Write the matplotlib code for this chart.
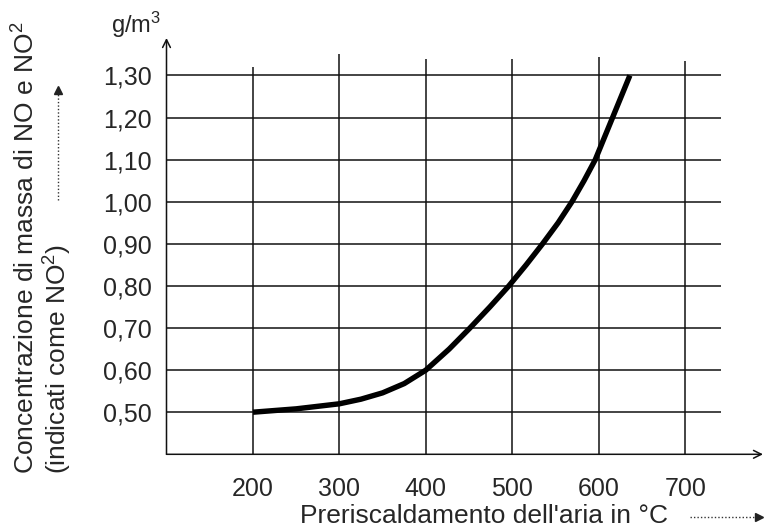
import numpy as np
import matplotlib
matplotlib.use('agg')
import matplotlib.pyplot as plt

plt.rcParams['font.family'] = ['Liberation Sans', 'DejaVu Sans']
plt.rcParams['mathtext.fontset'] = 'custom'
plt.rcParams['mathtext.rm'] = 'Liberation Sans'
plt.rcParams['mathtext.it'] = 'Liberation Sans'

# curve
temp = [200, 250, 300, 325, 350, 375, 400, 427, 451, 474, 496, 516, 535,
        553, 569, 583, 596, 606, 616, 626, 636]
conc = [0.500, 0.508, 0.520, 0.531, 0.546, 0.568, 0.600, 0.650, 0.700, 0.750,
        0.800, 0.850, 0.900, 0.950, 1.000, 1.050, 1.100, 1.150, 1.200, 1.250,
        1.300]

xticks = [200, 300, 400, 500, 600, 700]
xtick_labels = ['200', '300', '400', '500', '600', '700']
yticks = [0.5, 0.6, 0.7, 0.8, 0.9, 1.0, 1.1, 1.2, 1.3]
ytick_labels = ['0,50', '0,60', '0,70', '0,80', '0,90', '1,00', '1,10', '1,20', '1,30']
vline_tops = [1.32, 1.35, 1.34, 1.34, 1.345, 1.335]

W, H = 765, 529
fig = plt.figure(figsize=(W/100, H/100), dpi=100)
# axes box in pixels: left 166.5, right 763, bottom 454.3, top 38
ax = fig.add_axes([166.5/W, 1-454.3/H, (763-166.5)/W, (454.3-38)/H])
ax.set_xlim(100, 790)
ax.set_ylim(0.40, 1.389)
for s in ax.spines.values():
    s.set_visible(False)

gc = '#111111'
tc = '#262626'
ax.hlines(yticks, 100, 741, color=gc, lw=1.1)
ax.vlines(xticks, 0.40, vline_tops, color=gc, lw=1.1)

# axes with open arrows
ax.annotate('', xy=(790, 0.40), xytext=(100, 0.40),
            arrowprops=dict(arrowstyle='->', color=gc, lw=1.1,
                            shrinkA=0, shrinkB=0, mutation_scale=14))
ax.annotate('', xy=(100, 1.389), xytext=(100, 0.40),
            arrowprops=dict(arrowstyle='->', color=gc, lw=1.1,
                            shrinkA=0, shrinkB=0, mutation_scale=14))

ax.plot(temp, conc, color='black', lw=3.9, solid_capstyle='butt',
        solid_joinstyle='round', zorder=5)

ax.set_xticks(xticks)
ax.set_xticklabels(xtick_labels, fontsize=18, color=tc)
ax.set_yticks(yticks)
ax.set_yticklabels(ytick_labels, fontsize=18, color=tc)
ax.tick_params(axis='both', length=0)
ax.tick_params(axis='y', pad=10.5)
ax.tick_params(axis='x', pad=16)

# overlay in pixel coordinates for labels and dotted arrows
ov = fig.add_axes([0, 0, 1, 1])
ov.set_xlim(0, W)
ov.set_ylim(H, 0)
ov.axis('off')
ov.patch.set_alpha(0)

ov.text(161, 25, 'g/m$^3$', fontsize=17, ha='right', va='center', color=tc)
ov.text(26, 474, 'Concentrazione di massa di NO e NO$^2$', fontsize=19,
        rotation=90, ha='center', va='bottom', color=tc)
ov.text(58, 474, '(indicati come NO$^2$)', fontsize=19,
        rotation=90, ha='center', va='bottom', color=tc)
ov.plot([58, 58], [200, 92], color='#333333', lw=1, ls=(0, (1, 1.5)))
ov.plot([58], [90], marker='^', color='#222222', ms=6)

ov.text(484, 516, "Preriscaldamento dell'aria in °C", fontsize=19,
        ha='center', va='center', color=tc)
ov.plot([690, 757], [517, 517], color='#333333', lw=1, ls=(0, (1, 1.5)))
ov.plot([759], [517], marker='>', color='#222222', ms=6)

fig.savefig('out.png', dpi=100)
